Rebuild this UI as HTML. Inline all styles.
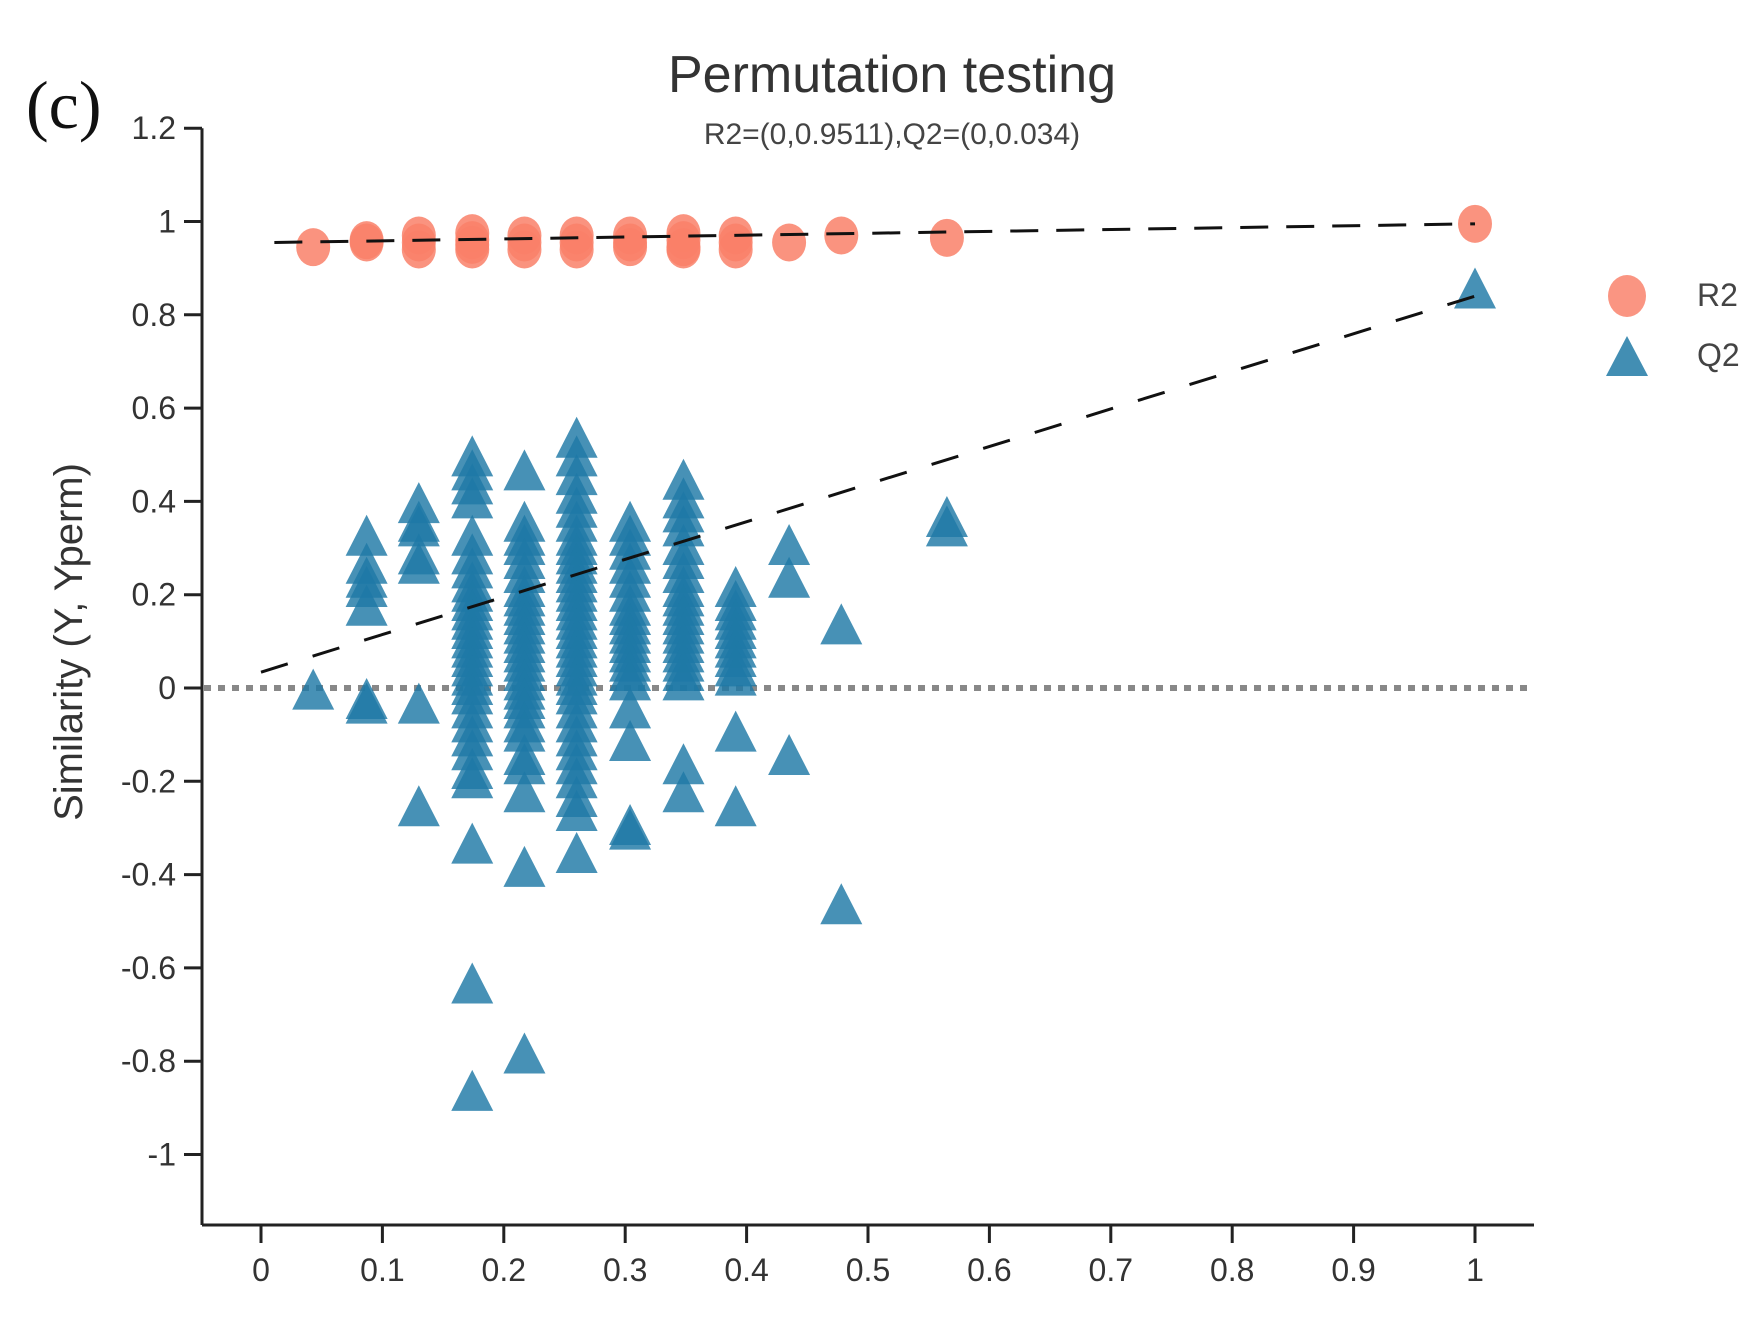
<!DOCTYPE html>
<html><head><meta charset="utf-8"><style>
html,body{margin:0;padding:0;background:#fff;}
svg{display:block;font-family:"Liberation Sans",sans-serif;}
</style></head><body>
<svg id="chart" width="1763" height="1321" viewBox="0 0 1763 1321" xmlns="http://www.w3.org/2000/svg">
<text x="26" y="128" font-family="Liberation Serif,serif" font-size="68" fill="#111">(c)</text>
<text x="892" y="92" text-anchor="middle" font-size="52" fill="#333">Permutation testing</text>
<text x="892" y="144" text-anchor="middle" font-size="30" fill="#444">R2=(0,0.9511),Q2=(0,0.034)</text>
<text transform="translate(82,642) rotate(-90)" text-anchor="middle" font-size="40" fill="#333">Similarity (Y, Yperm)</text>
<g id="axes"></g>
<g id="marks"></g>
<g>
<ellipse cx="1627" cy="296" rx="19" ry="21" fill="#f98a74" opacity="0.9"/>
<text x="1697" y="306" font-size="32" fill="#444">R2</text>
<polygon points="1627,336 1606,376 1648,376" fill="#2d82ab" opacity="0.9"/>
<text x="1697" y="366" font-size="32" fill="#444">Q2</text>
</g>
</svg>
<script>
const xTicks=[0,0.1,0.2,0.3,0.4,0.5,0.6,0.7,0.8,0.9,1];
const xTickLabels=["0","0.1","0.2","0.3","0.4","0.5","0.6","0.7","0.8","0.9","1"];
const yTicks=[1.2,1,0.8,0.6,0.4,0.2,0,-0.2,-0.4,-0.6,-0.8,-1];
const yTickLabels=["1.2","1","0.8","0.6","0.4","0.2","0","-0.2","-0.4","-0.6","-0.8","-1"];
const permX=[0.043,0.087,0.13,0.174,0.217,0.26,0.304,0.348,0.391,0.435,0.478,0.565,1];
const r2Values=[[0.945],[0.96,0.955],[0.97,0.955,0.94],[0.975,0.96,0.95,0.94],[0.97,0.955,0.94],[0.97,0.955,0.94],[0.97,0.955,0.945],[0.975,0.96,0.945,0.94],[0.97,0.955,0.94],[0.955],[0.97],[0.965],[0.995]];
const q2Values=[
[-0.01],
[0.32,0.26,0.23,0.21,0.17,-0.03,-0.04],
[0.39,0.35,0.34,0.28,0.26,-0.04,-0.26],
[0.49,0.46,0.43,0.4,0.32,0.28,0.25,0.22,0.2,0.18,0.16,0.14,0.12,0.1,0.08,0.06,0.04,0.02,0,-0.02,-0.05,-0.08,-0.11,-0.14,-0.18,-0.2,-0.34,-0.64,-0.87],
[0.46,0.35,0.32,0.3,0.27,0.24,0.21,0.19,0.17,0.15,0.13,0.11,0.09,0.07,0.05,0.03,0.01,-0.01,-0.03,-0.05,-0.08,-0.1,-0.15,-0.17,-0.23,-0.39,-0.79],
[0.53,0.49,0.45,0.41,0.38,0.35,0.32,0.3,0.28,0.26,0.24,0.22,0.2,0.18,0.16,0.14,0.12,0.1,0.08,0.06,0.04,0.02,0,-0.02,-0.05,-0.08,-0.11,-0.14,-0.17,-0.2,-0.24,-0.27,-0.36],
[0.35,0.32,0.29,0.26,0.23,0.2,0.17,0.15,0.13,0.11,0.09,0.07,0.05,0.03,0.01,-0.05,-0.12,-0.3,-0.31],
[0.44,0.4,0.37,0.34,0.3,0.27,0.24,0.21,0.19,0.17,0.15,0.13,0.11,0.09,0.07,0.05,0.03,0.01,-0.17,-0.23],
[0.21,0.18,0.16,0.14,0.12,0.1,0.08,0.06,0.04,0.02,-0.1,-0.26],
[0.3,0.23,-0.15],
[0.13,-0.47],
[0.36,0.34],
[0.85]];
const r2Line=[[0.011,0.955],[1,0.995]];
const q2Line=[[0,0.034],[1,0.84]];

const NS="http://www.w3.org/2000/svg";
const X=v=>261+v*1214;
const Y=v=>688-v*466.5;
function mk(tag,attrs,parent){const e=document.createElementNS(NS,tag);for(const k in attrs)e.setAttribute(k,attrs[k]);parent.appendChild(e);return e;}
const axes=document.getElementById('axes'), marks=document.getElementById('marks');
let e;
e=mk('line',{x1:202,y1:Y(1.2),x2:202,y2:1225,stroke:'#222','stroke-width':3},axes);


e=mk('line',{x1:202,y1:1225,x2:1534,y2:1225,stroke:'#222','stroke-width':3},axes);


yTicks.forEach((t,i)=>{
  e=mk('line',{x1:184,y1:Y(t),x2:202,y2:Y(t),stroke:'#222','stroke-width':3},axes);
  
  
  e=mk('text',{x:176,y:Y(t)+11,'text-anchor':'end','font-size':32,fill:'#333'},axes);
  e.textContent=yTickLabels[i];
  
  
});
xTicks.forEach((t,i)=>{
  e=mk('line',{x1:X(t),y1:1225,x2:X(t),y2:1243,stroke:'#222','stroke-width':3},axes);
  
  
  e=mk('text',{x:X(t),y:1281,'text-anchor':'middle','font-size':32,fill:'#333'},axes);
  e.textContent=xTickLabels[i];
  
  
});
e=mk('line',{x1:204,y1:Y(0),x2:1532,y2:Y(0),stroke:'#888','stroke-width':6,'stroke-dasharray':'7 7'},axes);


permX.forEach((x,i)=>{
  q2Values[i].forEach(v=>{
    const cx=X(x), cy=Y(v);
    e=mk('polygon',{points:`${cx},${cy-24} ${cx-21},${cy+17} ${cx+21},${cy+17}`,fill:'#1f79a6','fill-opacity':0.82},marks);
    
    
  });
});
permX.forEach((x,i)=>{
  r2Values[i].forEach(v=>{
    e=mk('ellipse',{cx:X(x),cy:Y(v),rx:17,ry:19,fill:'#f98068','fill-opacity':0.85},marks);
    
    
  });
});
e=mk('line',{x1:X(r2Line[0][0]),y1:Y(r2Line[0][1]),x2:X(r2Line[1][0]),y2:Y(r2Line[1][1]),stroke:'#111','stroke-width':3,'stroke-dasharray':'28 18'},marks);


e=mk('line',{x1:X(q2Line[0][0]),y1:Y(q2Line[0][1]),x2:X(q2Line[1][0]),y2:Y(q2Line[1][1]),stroke:'#111','stroke-width':3,'stroke-dasharray':'28 26'},marks);


</script>
</body></html>
